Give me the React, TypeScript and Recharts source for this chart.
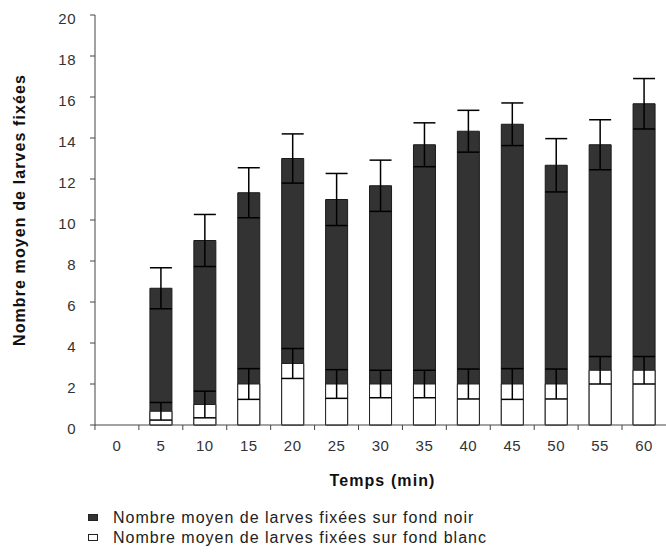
import React from "react";
import {
  BarChart,
  Bar,
  XAxis,
  YAxis,
  ErrorBar,
  Legend,
} from "recharts";

const temps = ["0", "5", "10", "15", "20", "25", "30", "35", "40", "45", "50", "55", "60"];
const noir = [0, 6.67, 9.0, 11.33, 13.0, 11.0, 11.67, 13.67, 14.33, 14.67, 12.67, 13.67, 15.67];
const noirErr = [0, 1.0, 1.27, 1.22, 1.2, 1.27, 1.25, 1.07, 1.02, 1.04, 1.3, 1.22, 1.23];
const blanc = [0, 0.67, 1.0, 2.0, 3.0, 2.0, 2.0, 2.0, 2.0, 2.0, 2.0, 2.67, 2.67];
const blancErr = [0, 0.43, 0.65, 0.75, 0.73, 0.7, 0.67, 0.67, 0.73, 0.75, 0.73, 0.67, 0.67];
const yTicks = [0, 2, 4, 6, 8, 10, 12, 14, 16, 18, 20];

const labelNoir = "Nombre moyen de larves fixées sur fond noir";
const labelBlanc = "Nombre moyen de larves fixées sur fond blanc";

const data = temps.map((t, i) => ({
  temps: t,
  noir: noir[i],
  noirErr: noirErr[i],
  blanc: blanc[i],
  blancErr: blancErr[i],
}));

const FONT = "'Liberation Sans', Arial, sans-serif";
const HALF_BAND = 22;

// excel-like: labels centred, tick marks between categories
function XTick(props: any) {
  const { x, y, payload } = props;
  return (
    <g>
      <line x1={x - HALF_BAND} x2={x - HALF_BAND} y1={y - 8} y2={y - 3} stroke="#444" />
      <text
        x={x}
        y={y + 18}
        textAnchor="middle"
        fontSize={15}
        fill="#333"
        fontFamily={FONT}
        style={{ letterSpacing: 0.5 }}
      >
        {payload.value}
      </text>
    </g>
  );
}

function YTick(props: any) {
  const { x, y, payload } = props;
  return (
    <text
      x={x}
      y={y + 3}
      textAnchor="end"
      dominantBaseline="central"
      fontSize={15}
      fill="#333"
      fontFamily={FONT}
      style={{ letterSpacing: 0.5 }}
    >
      {payload.value}
    </text>
  );
}

function YLabel(props: any) {
  const { viewBox } = props;
  const cx = 19;
  const cy = viewBox.y + viewBox.height / 2 - 10;
  return (
    <text
      x={cx}
      y={cy}
      transform={`rotate(-90, ${cx}, ${cy})`}
      textAnchor="middle"
      dominantBaseline="central"
      fontSize={16}
      fontWeight="bold"
      fill="#111"
      fontFamily={FONT}
      style={{ letterSpacing: 1.1 }}
    >
      Nombre moyen de larves fixées
    </text>
  );
}

function XLabel(props: any) {
  const { viewBox } = props;
  const cx = viewBox.x + viewBox.width / 2 + 2;
  return (
    <text
      x={cx}
      y={486}
      textAnchor="middle"
      fontSize={16}
      fontWeight="bold"
      fill="#111"
      fontFamily={FONT}
      style={{ letterSpacing: 1.1 }}
    >
      Temps (min)
    </text>
  );
}

function LegendBox() {
  const rows = [
    { label: labelNoir, fill: "#333333" },
    { label: labelBlanc, fill: "#ffffff" },
  ];
  return (
    <div style={{ paddingLeft: 88, paddingTop: 3, fontFamily: FONT }}>
      {rows.map((r) => (
        <div key={r.label} style={{ display: "flex", alignItems: "center", height: 20 }}>
          <svg width={11} height={8} style={{ marginRight: 14 }}>
            <rect x={0.5} y={0.5} width={9} height={6} fill={r.fill} stroke="#222" />
          </svg>
          <span style={{ fontSize: 16, color: "#222", letterSpacing: 1 }}>{r.label}</span>
        </div>
      ))}
    </div>
  );
}

export default function App() {
  return (
    <div style={{ position: "absolute", left: 0, top: 0, background: "#fff" }}>
      <BarChart
        width={666}
        height={552}
        data={data}
        margin={{ top: 15, right: 0, bottom: 0, left: 0 }}
      >
        <XAxis
          xAxisId="a"
          dataKey="temps"
          stroke="#444"
          tickLine={false}
          tick={<XTick />}
          height={80}
          interval={0}
          label={<XLabel />}
        />
        <XAxis xAxisId="b" dataKey="temps" hide />
        <YAxis
          domain={[0, 20]}
          ticks={yTicks}
          width={95}
          stroke="#444"
          tickSize={5}
          tickMargin={14}
          tick={<YTick />}
          label={<YLabel />}
        />
        <Legend
          verticalAlign="bottom"
          content={<LegendBox />}
          wrapperStyle={{ height: 47 }}
        />
        <Bar
          xAxisId="a"
          dataKey="noir"
          name={labelNoir}
          fill="#333333"
          stroke="#1a1a1a"
          barSize={22}
          isAnimationActive={false}
        >
          <ErrorBar dataKey="noirErr" width={11} stroke="#000" strokeWidth={1.5} />
        </Bar>
        <Bar
          xAxisId="b"
          dataKey="blanc"
          name={labelBlanc}
          fill="#ffffff"
          stroke="#222"
          barSize={22}
          isAnimationActive={false}
        >
          <ErrorBar dataKey="blancErr" width={11} stroke="#000" strokeWidth={1.5} />
        </Bar>
      </BarChart>
    </div>
  );
}
